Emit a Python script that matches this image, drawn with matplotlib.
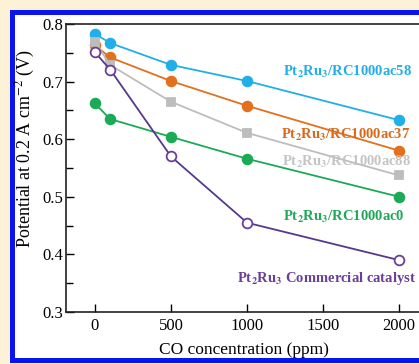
import matplotlib
matplotlib.use("Agg")
import matplotlib.pyplot as plt
from matplotlib.patches import Rectangle
from matplotlib.ticker import MultipleLocator

co_ppm = [0, 100, 500, 1000, 2000]
ac58 = [0.783, 0.767, 0.729, 0.701, 0.633]
ac37 = [0.763, 0.742, 0.701, 0.658, 0.580]
ac88 = [0.769, 0.729, 0.665, 0.611, 0.537]
ac0 = [0.662, 0.635, 0.604, 0.566, 0.500]
commercial = [0.751, 0.721, 0.570, 0.455, 0.390]

labels = [r"Pt$_{\mathbf{2}}$Ru$_{\mathbf{3}}$/RC1000ac58",
          r"Pt$_{\mathbf{2}}$Ru$_{\mathbf{3}}$/RC1000ac37",
          r"Pt$_{\mathbf{2}}$Ru$_{\mathbf{3}}$/RC1000ac88",
          r"Pt$_{\mathbf{2}}$Ru$_{\mathbf{3}}$/RC1000ac0",
          r"Pt$_{\mathbf{2}}$Ru$_{\mathbf{3}}$ Commercial catalyst"]
x_ticks = [0, 500, 1000, 1500, 2000]
y_ticks = [0.3, 0.4, 0.5, 0.6, 0.7, 0.8]

plt.rcParams['font.family'] = ['Liberation Serif', 'DejaVu Serif']
plt.rcParams['mathtext.fontset'] = 'stix'

W, H = 419, 364
fig = plt.figure(figsize=(W / 100, H / 100), dpi=100)
fig.patch.set_facecolor('#FDF2D6')
# blue frame with white interior
fig.patches.append(Rectangle((10 / W, 1 - 363 / H), 1.0, (363 - 10) / H,
                             transform=fig.transFigure, facecolor='#0A14F0',
                             edgecolor='none', zorder=-10))
fig.patches.append(Rectangle((15 / W, 1 - 358 / H), 1.0, (358 - 15) / H,
                             transform=fig.transFigure, facecolor='white',
                             edgecolor='none', zorder=-9))

ax = fig.add_axes([66 / W, 1 - 312 / H, (422 - 66) / W, (312 - 24) / H])
ax.set_facecolor('none')
ax.set_zorder(5)

series = [
    (ac58, '#22AEE6', '#22AEE6', 'o', '#22AEE6'),
    (ac37, '#E2701C', '#E2701C', 'o', '#D9691A'),
    (ac88, '#BDBDBD', '#BDBDBD', 's', '#C4C4C4'),
    (ac0, '#1BAA55', '#1BAA55', 'o', '#1FA85A'),
    (commercial, '#553A8A', 'white', 'o', '#6B3F98'),
]
for vals, lc, fc, mk, tc in series:
    ax.plot(co_ppm, vals, color=lc, lw=1.3, marker=mk, ms=7 if mk == 'o' else 6,
            markerfacecolor=fc, markeredgecolor=lc if fc != 'white' else '#6B3F98',
            markeredgewidth=1.3, zorder=3)

label_pos = [(1658, 0.717), (1651, 0.607), (1651, 0.560), (1638, 0.465), (1520, 0.359)]
for (vals, lc, fc, mk, tc), lab, (tx, ty) in zip(series, labels, label_pos):
    ax.text(tx, ty, lab, color=tc, fontsize=10.5, fontweight='bold',
            ha='center', va='center', zorder=4)

ax.set_xlim(-190, 2150)
ax.set_ylim(0.3, 0.8)
ax.set_xticks(x_ticks)
ax.set_yticks(y_ticks)
ax.yaxis.set_minor_locator(MultipleLocator(0.05))
ax.set_yticklabels([f"{v:.1f}" for v in y_ticks])
ax.tick_params(direction='in', length=6, width=1, labelsize=12, pad=4)
ax.tick_params(axis='y', which='minor', direction='in', length=5, width=1)
ax.tick_params(axis='y', pad=2)
for sp in ax.spines.values():
    sp.set_linewidth(1.2)
    sp.set_color('#222222')

ax.set_xlabel("CO concentration (ppm)", fontsize=12.5, labelpad=6)
fig.text(25 / W, 1 - 148 / H, "Potential at 0.2 A cm$^{-2}$ (V)", fontsize=13,
         rotation=90, ha='center', va='center')

fig.savefig("out.png", dpi=100, facecolor=fig.get_facecolor())
